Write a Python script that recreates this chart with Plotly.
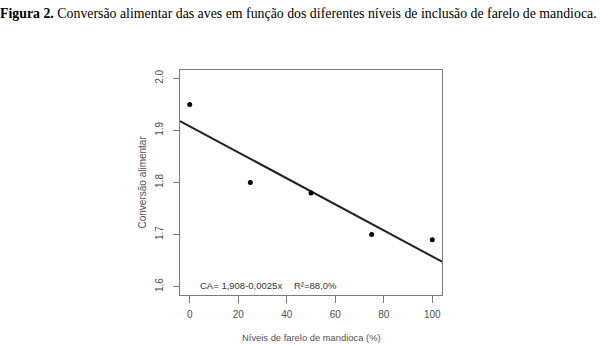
import plotly.graph_objects as go

# Data
niveis = [0, 25, 50, 75, 100]
conversao = [1.95, 1.80, 1.78, 1.70, 1.69]
intercepto = 1.908
inclinacao = -0.0025
x_range = [-4, 104]
y_range = [1.584, 2.016]
x_ticks = [0, 20, 40, 60, 80, 100]
y_ticks = [1.6, 1.7, 1.8, 1.9, 2.0]
y_ticklabels = ["1.6", "1.7", "1.8", "1.9", "2.0"]
titulo = "<b>Figura 2.</b> Conversão alimentar das aves em função dos diferentes níveis de inclusão de farelo de mandioca."
eq_text = "CA= 1,908-0,0025x"
r2_text = "R²=88,0%"

line_x = x_range
line_y = [intercepto + inclinacao * v for v in line_x]

axis_gray = "#7a7a7a"
text_gray = "#505050"
font_sans = "Liberation Sans"

fig = go.Figure()
fig.add_trace(go.Scatter(x=line_x, y=line_y, mode="lines",
                         line=dict(color="#222222", width=2), hoverinfo="skip",
                         showlegend=False))
fig.add_trace(go.Scatter(x=niveis, y=conversao, mode="markers",
                         marker=dict(color="black", size=5), showlegend=False))

fig.update_layout(
    width=600, height=345,
    margin=dict(l=180, r=158, t=70, b=50),
    paper_bgcolor="white", plot_bgcolor="white",
    font=dict(family=font_sans, size=10, color=text_gray),
    title=dict(text=titulo, x=0.0, xanchor="left", xref="container",
               y=1 - 13 / 345, yanchor="middle", yref="container",
               font=dict(family="Liberation Serif", size=13.85, color="black")),
    xaxis=dict(range=x_range, tickvals=x_ticks, ticks="outside", ticklen=7,
               tickcolor=axis_gray, showline=True, linecolor=axis_gray,
               linewidth=1, mirror=True, showgrid=False, zeroline=False,
               ticklabelstandoff=3,
               tickfont=dict(size=10, color=text_gray)),
    yaxis=dict(range=y_range, tickvals=y_ticks, ticktext=y_ticklabels,
               ticks="outside", ticklen=6, tickcolor=axis_gray, tickangle=-90,
               showline=True, linecolor=axis_gray, linewidth=1, mirror=True,
               showgrid=False, zeroline=False, ticklabelstandoff=6,
               tickfont=dict(size=10, color=text_gray)),
    annotations=[
        dict(text=eq_text, x=3.3, y=1.603, xref="x", yref="y",
             xanchor="left", yanchor="middle", showarrow=False,
             font=dict(size=9.5, color="#333333")),
        dict(text=r2_text, x=42.0, y=1.603, xref="x", yref="y",
             xanchor="left", yanchor="middle", showarrow=False,
             font=dict(size=9.5, color="#333333")),
        dict(text="Conversão alimentar", x=-0.145, y=0.5, xref="paper",
             yref="paper", textangle=-90, xanchor="center", yanchor="middle",
             showarrow=False, font=dict(size=10, color=text_gray)),
        dict(text="Níveis de farelo de mandioca (%)", x=0.5, y=-0.191,
             xref="paper", yref="paper", xanchor="center", yanchor="middle",
             showarrow=False, font=dict(size=9.4, color=text_gray)),
    ],
)

fig.write_html("out.html")
